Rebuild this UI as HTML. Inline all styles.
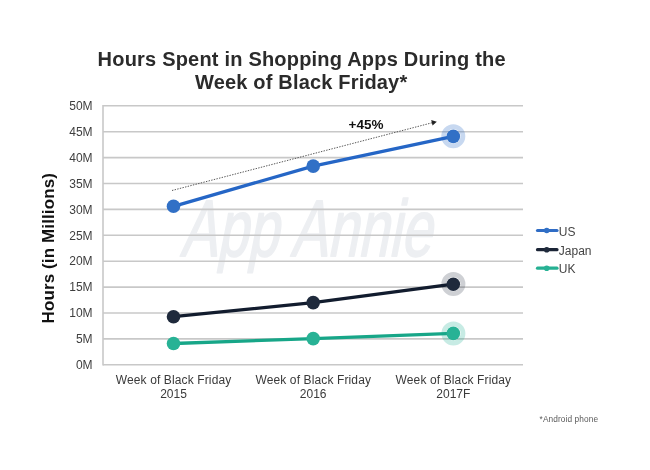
<!DOCTYPE html>
<html><head><meta charset="utf-8"><title>Hours Spent in Shopping Apps During the Week of Black Friday</title>
<style>
html,body{margin:0;padding:0;background:#fff;}
body{width:650px;height:470px;overflow:hidden;}
svg{display:block;will-change:transform;}
text{font-family:"Liberation Sans",Arial,Helvetica,sans-serif;}
</style></head>
<body>
<svg width="650" height="470" viewBox="0 0 650 470">
  <rect x="0" y="0" width="650" height="470" fill="#fff"/>
  <!-- title -->
  <text x="301.6" y="66" text-anchor="middle" font-size="20" font-weight="bold" fill="#2b2b2b" textLength="408" lengthAdjust="spacing">Hours Spent in Shopping Apps During the</text>
  <text x="301.1" y="89" text-anchor="middle" font-size="20" font-weight="bold" fill="#2b2b2b" textLength="212.2" lengthAdjust="spacing">Week of Black Friday*</text>

  <!-- watermark -->
  <g transform="translate(0,256) skewX(-11) translate(0,-256)">
    <text x="180" y="256" font-family="'DejaVu Sans', sans-serif" font-weight="200" font-size="80" fill="#edeff2" stroke="#edeff2" stroke-width="1.8" stroke-linejoin="round" textLength="251" lengthAdjust="spacingAndGlyphs">App Annie</text>
  </g>

  <!-- gridlines -->
  <g stroke="#c8c8c8" stroke-width="1.6" fill="none">
    <line x1="103" y1="105.8" x2="523" y2="105.8"/>
    <line x1="103" y1="131.7" x2="523" y2="131.7"/>
    <line x1="103" y1="157.6" x2="523" y2="157.6"/>
    <line x1="103" y1="183.5" x2="523" y2="183.5"/>
    <line x1="103" y1="209.4" x2="523" y2="209.4"/>
    <line x1="103" y1="235.3" x2="523" y2="235.3"/>
    <line x1="103" y1="261.2" x2="523" y2="261.2"/>
    <line x1="103" y1="287.1" x2="523" y2="287.1"/>
    <line x1="103" y1="313.0" x2="523" y2="313.0"/>
    <line x1="103" y1="338.9" x2="523" y2="338.9"/>
    <line x1="103" y1="364.8" x2="523" y2="364.8"/>
    <line x1="103" y1="105" x2="103" y2="365.6"/>
  </g>

  <!-- y labels -->
  <g font-size="12" fill="#3e3e3e" text-anchor="end">
    <text x="92.6" y="110.0">50M</text>
    <text x="92.6" y="135.9">45M</text>
    <text x="92.6" y="161.8">40M</text>
    <text x="92.6" y="187.7">35M</text>
    <text x="92.6" y="213.6">30M</text>
    <text x="92.6" y="239.5">25M</text>
    <text x="92.6" y="265.4">20M</text>
    <text x="92.6" y="291.3">15M</text>
    <text x="92.6" y="317.2">10M</text>
    <text x="92.6" y="343.1">5M</text>
    <text x="92.6" y="369.0">0M</text>
  </g>

  <!-- y axis title -->
  <text transform="translate(54.3,323.5) rotate(-90)" font-size="17" font-weight="bold" fill="#111" textLength="150.5" lengthAdjust="spacing">Hours (in Millions)</text>

  <!-- x labels -->
  <g font-size="12" fill="#3a3a3a" text-anchor="middle">
    <text x="173.5" y="384.1" textLength="115.5" lengthAdjust="spacing">Week of Black Friday</text>
    <text x="173.5" y="398.1">2015</text>
    <text x="313.2" y="384.1" textLength="115.5" lengthAdjust="spacing">Week of Black Friday</text>
    <text x="313.2" y="398.1">2016</text>
    <text x="453.3" y="384.1" textLength="115.5" lengthAdjust="spacing">Week of Black Friday</text>
    <text x="453.3" y="398.1">2017F</text>
  </g>

  <!-- trend arrow -->
  <line x1="172" y1="190.5" x2="432" y2="122.8" stroke="#444" stroke-width="0.9" stroke-dasharray="1.4,1.3"/>
  <polygon points="436.8,121.8 431.2,120.1 432.6,125.5" fill="#222"/>
  <text x="366" y="129" text-anchor="middle" font-size="13.5" font-weight="bold" fill="#111">+45%</text>

  <!-- halos -->
  <g fill="none" stroke-width="4.8">
    <circle cx="453.3" cy="136.3" r="9.6" stroke="#3170c6" opacity="0.27"/>
    <circle cx="453.4" cy="284.1" r="9.6" stroke="#1f2a3c" opacity="0.22"/>
    <circle cx="453.4" cy="333.4" r="9.6" stroke="#28b295" opacity="0.26"/>
  </g>

  <!-- series lines -->
  <polyline points="173.5,206.3 313.2,166.1 453.3,136.4" fill="none" stroke="#2566c6" stroke-width="3.3" stroke-linejoin="round"/>
  <polyline points="173.5,316.7 313.2,302.6 453.3,284.2" fill="none" stroke="#121c2e" stroke-width="3.3" stroke-linejoin="round"/>
  <polyline points="173.5,343.5 313.2,338.6 453.3,333.4" fill="none" stroke="#17a688" stroke-width="3.3" stroke-linejoin="round"/>

  <!-- points -->
  <g fill="#3170c6">
    <circle cx="173.5" cy="206.3" r="6.8"/>
    <circle cx="313.2" cy="166.1" r="6.8"/>
    <circle cx="453.3" cy="136.4" r="6.8"/>
  </g>
  <g fill="#1f2a3c">
    <circle cx="173.5" cy="316.7" r="6.8"/>
    <circle cx="313.2" cy="302.6" r="6.8"/>
    <circle cx="453.3" cy="284.2" r="6.8"/>
  </g>
  <g fill="#28b295">
    <circle cx="173.5" cy="343.5" r="6.8"/>
    <circle cx="313.2" cy="338.6" r="6.8"/>
    <circle cx="453.3" cy="333.4" r="6.8"/>
  </g>

  <!-- legend -->
  <g stroke-width="3.2" stroke-linecap="round">
    <line x1="537.5" y1="230.5" x2="557" y2="230.5" stroke="#2f6cc5"/>
    <line x1="537.5" y1="249.7" x2="557" y2="249.7" stroke="#1b2436"/>
    <line x1="537.5" y1="268.2" x2="557" y2="268.2" stroke="#25b092"/>
  </g>
  <circle cx="546.7" cy="230.5" r="2.8" fill="#3170c6"/>
  <circle cx="546.7" cy="249.7" r="2.8" fill="#1f2a3c"/>
  <circle cx="546.7" cy="268.2" r="2.8" fill="#28b295"/>
  <g font-size="12" fill="#444">
    <text x="558.8" y="235.5">US</text>
    <text x="558.8" y="254.7">Japan</text>
    <text x="558.8" y="273.2">UK</text>
  </g>

  <!-- footnote -->
  <text x="539.6" y="421.6" font-size="8.3" fill="#5a5a5a" textLength="58.4" lengthAdjust="spacing">*Android phone</text>
</svg>
</body></html>
